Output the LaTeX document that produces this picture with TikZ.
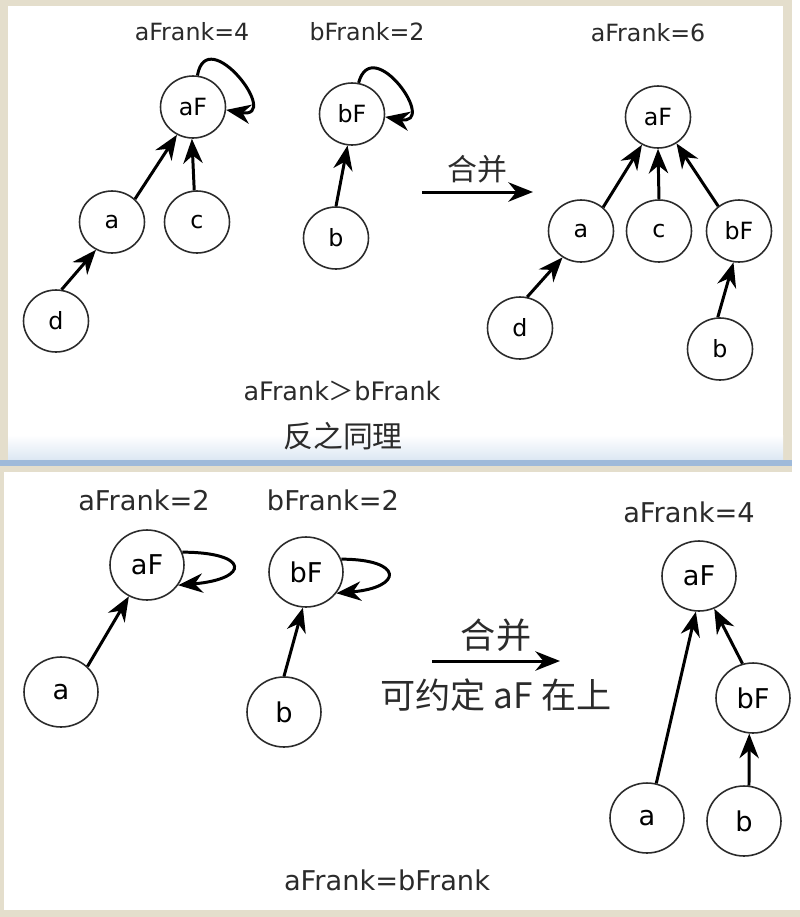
\documentclass[tikz,border=0pt]{standalone}
\usepackage{fontspec}
\setmainfont{DejaVu Sans}
\newfontfamily\cjk{Noto Sans CJK SC}
\usetikzlibrary{arrows.meta,shapes.geometric}
\definecolor{ink}{HTML}{2B2B2B}
\definecolor{frame}{HTML}{E4DECC}
\definecolor{rule}{HTML}{9FBADA}
\definecolor{haze}{HTML}{DCE7F3}
\tikzset{
  flow/.style={-{Stealth[length=14pt,width=11pt,inset=4.5pt]},line width=1.7pt,draw=black},
  vert/.style={ellipse,draw=ink,line width=0.9pt,fill=white,inner sep=0pt,
               minimum width=1.3cm,minimum height=1.24cm,font=\fontsize{13.5}{15}\selectfont},
  bigvert/.style={vert,minimum width=1.48cm,minimum height=1.4cm,
                  font=\fontsize{15.5}{17}\selectfont},
  rank/.style={font=\fontsize{13.5}{15}\selectfont,text=ink},
  bigrank/.style={font=\fontsize{15.5}{17}\selectfont,text=ink},
  cn/.style={font=\cjk\fontsize{17}{19}\selectfont,text=ink},
  bigcn/.style={font=\cjk\fontsize{20}{22}\selectfont,text=ink},
}

\begin{document}
\begin{tikzpicture}[x=0.02cm,y=-0.02cm]
    \fill[frame] (0,0) rectangle (800,917);
    \fill[white] (8,6) rectangle (783,460);
    \fill[white] (792,0) rectangle (800,472);
    \shade[top color=white,bottom color=haze] (8,435) rectangle (783,460);
    \fill[rule] (0,460) rectangle (792,466);
    \fill[white] (4,472) rectangle (800,910);

    \node[vert] (aF1) at (193,107) {aF};
    \node[vert] (a1) at (112,222) {a};
    \node[vert] (c1) at (197,222) {c};
    \node[vert] (d1) at (56,321) {d};
    \node[vert] (bF1) at (352,114) {bF};
    \node[vert] (b1) at (336,238) {b};
    \node[rank] (ra1) at (192,32) {aFrank=4};
    \node[rank] (rb1) at (367,32) {bFrank=2};

    \node[vert] (aF2) at (658,117) {aF};
    \node[vert] (a2) at (581,231) {a};
    \node[vert] (c2) at (659,231) {c};
    \node[vert] (bF2) at (739,231) {bF};
    \node[vert] (d2) at (520,328) {d};
    \node[vert] (b2) at (720,349) {b};
    \node[rank] (ra2) at (648,33) {aFrank=6};

    \node[rank,font=\fontsize{14.5}{16}\selectfont] (cmp1) at (342,391) {aFrank{\cjk ＞}bFrank};
    \node[cn] (rev1) at (343,436) {反之同理};

    \coordinate (m1s) at (422,192);
    \coordinate (m1e) at (533,192);
    \draw[flow] (m1s) -- node[cn,above=1pt] (mg1) {合并} (m1e);

    \draw[flow] (aF1.82) to[out=80,in=-10,out distance=1.1cm,in distance=1.15cm] (aF1.-5);
    \draw[flow] (bF1.78) to[out=75,in=-10,out distance=1.05cm,in distance=1.1cm] (bF1.-5);
    \draw[flow] (d1.80) -- (a1.240);
    \draw[flow] (a1.45) -- (aF1.240);
    \draw[flow] (c1.95) -- (aF1.268);
    \draw[flow] (b1.90) -- (bF1.262);
    \draw[flow] (a2.47) -- (aF2.240);
    \draw[flow] (c2.north) -- (aF2.south);
    \draw[flow] (bF2.130) -- (aF2.305);
    \draw[flow] (d2.77) -- (a2.235);
    \draw[flow] (b2.94) -- (bF2.260);

    \node[bigvert] (aF3) at (147,565) {aF};
    \node[bigvert] (a3) at (61,692) {a};
    \node[bigvert] (bF3) at (306,572) {bF};
    \node[bigvert] (b3) at (284,712) {b};
    \node[bigrank] (ra3) at (144,500) {aFrank=2};
    \node[bigrank] (rb3) at (333,500) {bFrank=2};

    \node[bigvert] (aF4) at (699,576) {aF};
    \node[bigvert] (bF4) at (753,698) {bF};
    \node[bigvert] (a4) at (647,818) {a};
    \node[bigvert] (b4) at (744,821) {b};
    \node[bigrank] (ra4) at (689,512) {aFrank=4};
    \node[bigrank] (eq4) at (387,880) {aFrank=bFrank};

    \coordinate (m2s) at (432,661);
    \coordinate (m2e) at (560,661);
    \draw[flow] (m2s) -- node[bigcn,above=1pt] (mg2) {合并}
                         node[bigcn,below=6pt] (top2) {可约定 aF 在上} (m2e);

    \draw[flow] (aF3.20) to[out=0,in=5,out distance=1.35cm,in distance=1.45cm] (aF3.-33);
    \draw[flow] (bF3.20) to[out=0,in=5,out distance=1.25cm,in distance=1.35cm] (bF3.-35);
    \draw[flow] (a3.44) -- (aF3.240);
    \draw[flow] (b3.north) -- (bF3.265);
    \draw[flow] (a4.75) -- (aF4.265);
    \draw[flow] (bF4.107) -- (aF4.295);
    \draw[flow] (b4.82) -- (bF4.264);
\end{tikzpicture}
\end{document}
